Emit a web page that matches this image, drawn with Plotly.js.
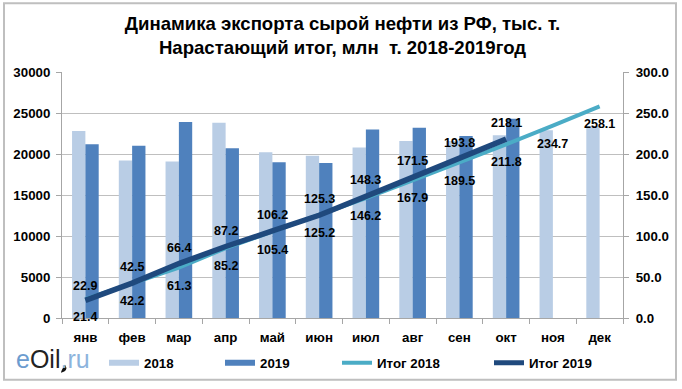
<!DOCTYPE html>
<html>
<head>
<meta charset="utf-8">
<script src="https://cdn.plot.ly/plotly-3.0.1.min.js"></script>
<style>html,body{margin:0;padding:0;background:#fff;}#chart{width:682px;height:389px;}</style>
</head>
<body>
<div id="chart"></div>
<script>
const months = ['янв','фев','мар','апр','май','июн','июл','авг','сен','окт','ноя','дек'];
const export2018 = [22800, 19200, 19100, 23800, 20200, 19800, 20800, 21600, 21600, 22300, 22900, 23400];
const export2019 = [21200, 21000, 23900, 20700, 19000, 18900, 23000, 23200, 22200, 24300];
const total2018 = [22.9, 42.2, 61.3, 85.2, 105.4, 125.2, 146.2, 167.9, 189.5, 211.8, 234.7, 258.1];
const total2019 = [21.4, 42.5, 66.4, 87.2, 106.2, 125.3, 148.3, 171.5, 193.8, 218.1];
const leftTicks = [0, 5000, 10000, 15000, 20000, 25000, 30000];
const rightTicks = [0, 50, 100, 150, 200, 250, 300];

const FONT = 'Liberation Sans, Arial, sans-serif';
const C18 = '#B9CDE5', C19 = '#4F81BD', L18 = '#4BACC6', L19 = '#1F497D';

const traces = [
  {type:'bar', x:months, y:export2018, name:'2018', marker:{color:C18}, showlegend:false, hoverinfo:'skip'},
  {type:'bar', x:months.slice(0, export2019.length), y:export2019, name:'2019', marker:{color:C19}, showlegend:false, hoverinfo:'skip'},
  {type:'scatter', mode:'lines', x:months, y:total2018, yaxis:'y2', name:'Итог 2018', line:{color:L18, width:4}, showlegend:false},
  {type:'scatter', mode:'lines', x:months.slice(0, total2019.length), y:total2019, yaxis:'y2', name:'Итог 2019', line:{color:L19, width:5.5}, showlegend:false},
  // legend entries
  {type:'scatter', mode:'lines', x:[null], y:[null], name:'2018', line:{color:C18, width:6}, legend:'legend'},
  {type:'scatter', mode:'lines', x:[null], y:[null], name:'2019', line:{color:C19, width:6}, legend:'legend2'},
  {type:'scatter', mode:'lines', x:[null], y:[null], yaxis:'y2', name:'Итог 2018', line:{color:L18, width:4}, legend:'legend3'},
  {type:'scatter', mode:'lines', x:[null], y:[null], yaxis:'y2', name:'Итог 2019', line:{color:L19, width:5}, legend:'legend4'}
];

const annotations = [];
total2018.forEach((v, i) => {
  annotations.push({x:months[i], y:v, xref:'x', yref:'y2', text:v.toFixed(1), showarrow:false,
    yshift: i === 0 ? 13 : -18, font:{family:FONT, size:12.5, color:'#000', weight:'bold'}});
});
total2019.forEach((v, i) => {
  annotations.push({x:months[i], y:v, xref:'x', yref:'y2', text:v.toFixed(1), showarrow:false,
    yshift: i === 0 ? -17 : 16, font:{family:FONT, size:12.5, color:'#000', weight:'bold'}});
});
annotations.push({xref:'paper', yref:'paper', x:(53-62)/561, y:(319-360)/247, xanchor:'center', yanchor:'middle',
  showarrow:false, text:'<span style="color:#6C9CCF">e</span><span style="color:#222222">Oil</span><span style="color:#8DB4DD">.ru</span>',
  font:{family:FONT, size:25}});

const legBase = {orientation:'h', yanchor:'middle', y:(319-363)/247, xanchor:'left', bgcolor:'rgba(0,0,0,0)',
  font:{family:FONT, size:13.3, color:'#000', weight:'bold'}};
function legAt(px){ return Object.assign({}, legBase, {x:(px-62)/561}); }

const layout = {
  width:682, height:389,
  margin:{l:62, r:59, t:72, b:70},
  paper_bgcolor:'#fff', plot_bgcolor:'#fff',
  barmode:'group', bargap:0.43, bargroupgap:0,
  title:{text:'Динамика экспорта сырой нефти из РФ, тыс. т.<br>Нарастающий итог, млн  т. 2018-2019год',
    font:{family:FONT, size:18.6, color:'#000', weight:'bold'}, x:0.5, xanchor:'center', xref:'paper',
    y:1-30/389, yanchor:'middle', yref:'container'},
  xaxis:{type:'category', categoryorder:'array', categoryarray:months, showline:true, linecolor:'#A6A6A6', linewidth:1,
    ticks:'outside', tickson:'boundaries', ticklen:5, tickcolor:'#A6A6A6', showgrid:false, ticklabelstandoff:7,
    tickfont:{family:FONT, size:13.3, color:'#000', weight:'bold'}},
  yaxis:{range:[0,30000], tickvals:leftTicks, ticktext:leftTicks.map(String), showgrid:true, gridcolor:'#BFBFBF', gridwidth:1,
    showline:true, linecolor:'#A6A6A6', ticks:'outside', ticklen:5, tickcolor:'#A6A6A6', zeroline:false, ticklabelstandoff:3,
    tickfont:{family:FONT, size:13.3, color:'#000', weight:'bold'}},
  yaxis2:{range:[0,300], overlaying:'y', side:'right', tickvals:rightTicks, ticktext:rightTicks.map(v=>v.toFixed(1)),
    showgrid:false, showline:true, linecolor:'#A6A6A6', ticks:'outside', ticklen:5, tickcolor:'#A6A6A6', zeroline:false, ticklabelstandoff:4,
    tickfont:{family:FONT, size:13.3, color:'#000', weight:'bold'}},
  legend:legAt(104), legend2:legAt(220), legend3:legAt(337), legend4:legAt(489),
  annotations:annotations,
  shapes:[
    {type:'rect', xref:'paper', yref:'paper', x0:(4-62)/561, x1:(676-62)/561, y0:(319-381)/247, y1:(319-3)/247,
      line:{color:'#BFBFBF', width:2}, fillcolor:'rgba(0,0,0,0)', layer:'below'},
    {type:'path', xref:'paper', yref:'paper', xsizemode:'pixel', ysizemode:'pixel', xanchor:(65-62)/561, yanchor:(319-372)/247,
      path:'M0,6 Q-4,0 -4,-2 A4,4 0 1 0 4,-2 Q4,0 0,6 Z', fillcolor:'#111', line:{width:0}}
  ]
};

Plotly.newPlot('chart', traces, layout, {displayModeBar:false, staticPlot:true});
</script>
</body>
</html>
